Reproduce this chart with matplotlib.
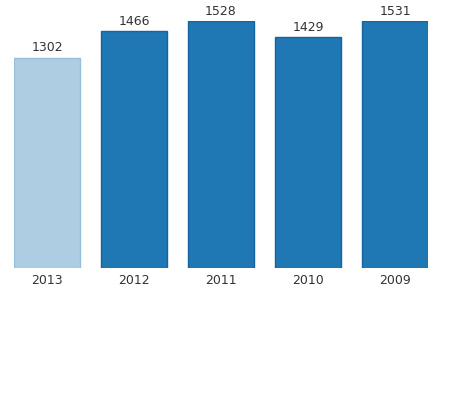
import matplotlib
matplotlib.use("Agg")
import matplotlib.pyplot as plt

years = ["2013", "2012", "2011", "2010", "2009"]
values = [1302, 1466, 1528, 1429, 1531]
faces = ["#aecde3", "#1f77b4", "#1f77b4", "#1f77b4", "#1f77b4"]
edges = ["#97bedb", "#16649e", "#16649e", "#16649e", "#16649e"]

W, H = 460, 400
fig = plt.figure(figsize=(W / 100, H / 100), dpi=100)
ax = fig.add_axes([14 / W, (H - 268) / H, 414 / W, 247 / H])
x = list(range(len(years)))
bw = 66 / 87
ax.bar(x, values, width=bw, color=faces, edgecolor=edges, linewidth=1)
ax.set_xlim(-bw / 2, len(years) - 1 + bw / 2)
ax.set_ylim(0, max(values))
for xi, v in zip(x, values):
    ax.annotate(str(v), (xi, v), xytext=(0, 2.5), textcoords="offset points",
                ha="center", va="bottom", fontsize=9, color="#333333")
for xi, y in zip(x, years):
    ax.annotate(y, (xi, 0), xytext=(0, -4.5), textcoords="offset points",
                ha="center", va="top", fontsize=9, color="#333333")
ax.axis("off")
fig.savefig("out.png", dpi=100)
